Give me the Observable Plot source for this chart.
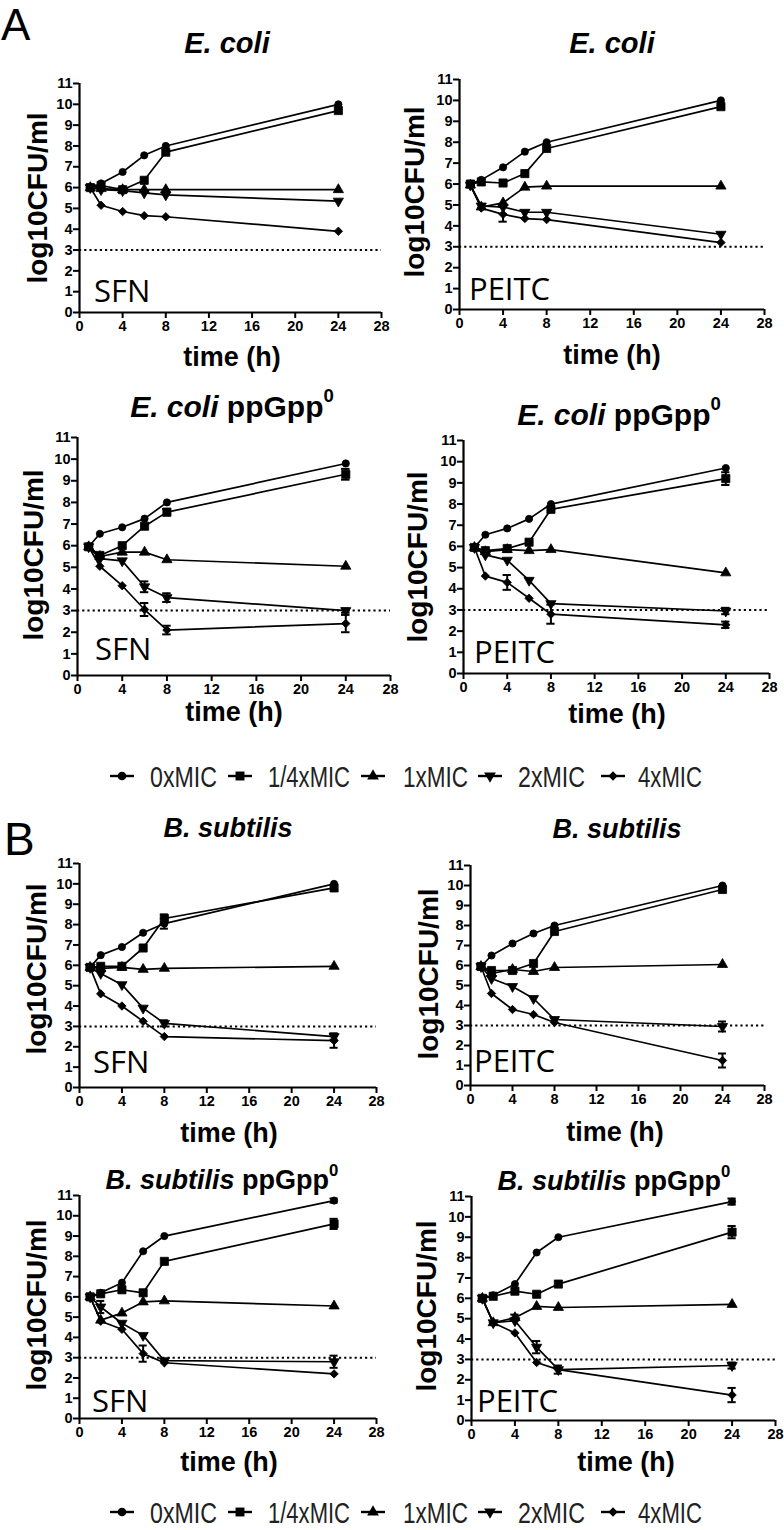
<!DOCTYPE html>
<html><head><meta charset="utf-8">
<script src="https://cdn.jsdelivr.net/npm/d3@7"></script>
<script src="https://cdn.jsdelivr.net/npm/@observablehq/plot@0.6"></script>
<style>
body{margin:0;background:#fff;}
#root{position:relative;width:784px;height:1530px;overflow:hidden;background:#fff;}
#root svg.plot{position:absolute;}
#overlay{position:absolute;left:0;top:0;}
</style></head>
<body><div id="root"></div>
<script>
// ---------- data ----------
const times = [1, 2, 4, 6, 8, 24];
const seriesNames = ["0xMIC", "1/4xMIC", "1xMIC", "2xMIC", "4xMIC"];
const xTicks = [0, 4, 8, 12, 16, 20, 24, 28];
const yTicks = [0, 1, 2, 3, 4, 5, 6, 7, 8, 9, 10, 11];
const detectionLimit = 3;

// each: [0xMIC, 1/4xMIC, 1xMIC, 2xMIC, 4xMIC], values at times
const ecoliSFN = [
  [6.0, 6.2, 6.75, 7.55, 8.0, 10.0],
  [6.0, 6.1, 5.9, 6.35, 7.7, 9.7],
  [6.0, 5.95, 5.9, 5.9, 5.9, 5.9],
  [6.0, 5.9, 5.85, 5.75, 5.65, 5.35],
  [6.0, 5.15, 4.85, 4.65, 4.6, 3.9]
];
const ecoliSFN_err = [];

const ecoliPEITC = [
  [6.0, 6.2, 6.8, 7.55, 8.0, 10.0],
  [6.0, 6.1, 6.05, 6.5, 7.7, 9.7],
  [5.95, 4.9, 5.1, 5.85, 5.9, 5.9],
  [5.95, 4.95, 4.9, 4.65, 4.65, 3.6],
  [5.95, 4.85, 4.55, 4.35, 4.3, 3.2]
];
const ecoliPEITC_err = [[4, 2, 0.35]];

const ecoliPpSFN = [
  [5.95, 6.55, 6.85, 7.25, 8.0, 9.8],
  [5.95, 5.55, 6.0, 6.9, 7.55, 9.3],
  [5.95, 5.5, 5.7, 5.7, 5.35, 5.05],
  [5.95, 5.4, 5.3, 4.1, 3.6, 3.0],
  [5.95, 5.05, 4.15, 3.05, 2.1, 2.4]
];
const ecoliPpSFN_err = [[1, 5, 0.25], [1, 4, 0.15], [3, 3, 0.25], [3, 4, 0.2], [4, 3, 0.3], [4, 4, 0.2], [4, 5, 0.4], [3, 5, 0.1]];

const ecoliPpPEITC = [
  [5.95, 6.55, 6.85, 7.3, 8.0, 9.7],
  [5.95, 5.8, 5.9, 6.2, 7.75, 9.2],
  [5.95, 5.75, 5.85, 5.8, 5.85, 4.75],
  [5.95, 5.6, 5.35, 4.4, 3.3, 2.95],
  [5.95, 4.6, 4.3, 3.55, 2.8, 2.3]
];
const ecoliPpPEITC_err = [[1, 5, 0.3], [4, 2, 0.35], [4, 4, 0.45], [3, 5, 0.15], [4, 5, 0.15]];

const bsubSFN = [
  [5.9, 6.5, 6.9, 7.6, 8.05, 10.0],
  [5.9, 5.95, 5.95, 6.85, 8.3, 9.8],
  [5.9, 5.85, 5.9, 5.8, 5.85, 5.95],
  [5.9, 5.6, 5.05, 3.9, 3.15, 2.5],
  [5.9, 4.6, 4.0, 3.25, 2.5, 2.3]
];
const bsubSFN_err = [[0, 4, 0.25], [1, 4, 0.2], [3, 4, 0.15], [3, 5, 0.15], [4, 5, 0.35]];

const bsubPEITC = [
  [5.95, 6.5, 7.1, 7.6, 8.0, 10.0],
  [5.95, 5.75, 5.75, 6.1, 7.7, 9.8],
  [5.95, 5.6, 5.8, 5.7, 5.9, 6.05],
  [5.95, 5.35, 4.95, 4.35, 3.3, 2.95],
  [5.95, 4.6, 3.8, 3.55, 3.15, 1.25]
];
const bsubPEITC_err = [[3, 5, 0.25], [4, 5, 0.35]];

const bsubPpSFN = [
  [6.0, 6.2, 6.7, 8.25, 9.0, 10.75],
  [6.0, 6.15, 6.35, 6.2, 7.75, 9.6],
  [6.0, 4.85, 5.2, 5.75, 5.8, 5.55],
  [6.0, 5.5, 4.7, 4.1, 2.85, 2.8],
  [6.0, 4.8, 4.4, 3.2, 2.75, 2.2]
];
const bsubPpSFN_err = [[0, 5, 0.1], [1, 5, 0.25], [3, 1, 0.3], [4, 3, 0.4], [3, 5, 0.3]];

const bsubPpPEITC = [
  [6.0, 6.15, 6.7, 8.25, 9.0, 10.75],
  [6.0, 6.1, 6.35, 6.2, 6.7, 9.25],
  [6.0, 4.8, 5.05, 5.6, 5.55, 5.7],
  [6.0, 4.8, 4.9, 3.6, 2.5, 2.7],
  [6.0, 4.8, 4.3, 2.85, 2.5, 1.25]
];
const bsubPpPEITC_err = [[0, 5, 0.15], [1, 5, 0.3], [3, 3, 0.3], [3, 5, 0.15], [4, 4, 0.2], [4, 5, 0.35], [2, 2, 0.15]];

// ---------- layout ----------
const FONT = "'Liberation Sans', Arial, sans-serif";
const symbolSpec = [
  {symbol: "circle", r: 3.6, rotate: 0},
  {symbol: "square", r: 4.6, rotate: 0},
  {symbol: "triangle", r: 3.8, rotate: 0},
  {symbol: "triangle", r: 3.8, rotate: 180},
  {symbol: "diamond2", r: 3.8, rotate: 0}
];

const panels = [
  {vals: ecoliSFN, err: ecoliSFN_err, L: 79, R: 381, T: 83, B: 312, drug: "SFN", dx: 94, dy: 302,
   title: ["E. coli", null], tfs: 29, tx: 227, ty: 53, ylx: 37, yly: 198, xlx: 232, xly: 357},
  {vals: ecoliPEITC, err: ecoliPEITC_err, L: 459, R: 764, T: 79, B: 309, drug: "PEITC", dx: 469, dy: 300,
   title: ["E. coli", null], tfs: 29, tx: 612, ty: 53, ylx: 414, yly: 192, xlx: 612, xly: 355},
  {vals: ecoliPpSFN, err: ecoliPpSFN_err, L: 77, R: 390, T: 437, B: 675, drug: "SFN", dx: 95, dy: 660,
   title: ["E. coli", " ppGpp"], tfs: 30, tx: 232, ty: 417, ylx: 33, yly: 555, xlx: 234, xly: 712},
  {vals: ecoliPpPEITC, err: ecoliPpPEITC_err, L: 463, R: 769, T: 440, B: 673, drug: "PEITC", dx: 474, dy: 663,
   title: ["E. coli", " ppGpp"], tfs: 30, tx: 619, ty: 425, ylx: 417, yly: 557, xlx: 617, xly: 714},
  {vals: bsubSFN, err: bsubSFN_err, L: 79, R: 376, T: 863, B: 1087, drug: "SFN", dx: 93, dy: 1073,
   title: ["B. subtilis", null], tfs: 27, tx: 228, ty: 837, ylx: 36, yly: 969, xlx: 229, xly: 1133},
  {vals: bsubPEITC, err: bsubPEITC_err, L: 470, R: 764, T: 865, B: 1085, drug: "PEITC", dx: 474, dy: 1072,
   title: ["B. subtilis", null], tfs: 27, tx: 617, ty: 838, ylx: 428, yly: 974, xlx: 615, xly: 1132},
  {vals: bsubPpSFN, err: bsubPpSFN_err, L: 79, R: 376, T: 1195, B: 1418, drug: "SFN", dx: 92, dy: 1412,
   title: ["B. subtilis", " ppGpp"], tfs: 27, tx: 222, ty: 1189, ylx: 36, yly: 1305, xlx: 229, xly: 1462},
  {vals: bsubPpPEITC, err: bsubPpPEITC_err, L: 471, R: 775, T: 1196, B: 1420, drug: "PEITC", dx: 477, dy: 1412,
   title: ["B. subtilis", " ppGpp"], tfs: 27, tx: 614, ty: 1190, ylx: 426, yly: 1306, xlx: 626, xly: 1462}
];

const root = document.getElementById("root");

function drawPanel(p) {
  const ml = 46, mr = 22, mt = 10, mb = 34;
  const rows = [];
  p.vals.forEach((arr, si) => arr.forEach((v, ti) => rows.push({s: si, t: times[ti], v})));
  const errs = p.err.map(([si, ti, e]) => ({s: si, t: times[ti], v: p.vals[si][ti], e}));
  const marks = [
    Plot.ruleY([detectionLimit], {stroke: "#000", strokeWidth: 2, strokeDasharray: "2.2,3"}),
    ...seriesNames.map((_, si) => Plot.line(rows.filter(d => d.s === si), {x: "t", y: "v", stroke: "#000", strokeWidth: 1.7})),
    Plot.ruleX(errs, {x: "t", y1: d => d.v - d.e, y2: d => d.v + d.e, stroke: "#000", strokeWidth: 2}),
    Plot.ruleY(errs, {y: d => d.v - d.e, x1: d => d.t - 0.38, x2: d => d.t + 0.38, stroke: "#000", strokeWidth: 2}),
    Plot.ruleY(errs, {y: d => d.v + d.e, x1: d => d.t - 0.38, x2: d => d.t + 0.38, stroke: "#000", strokeWidth: 2}),
    ...symbolSpec.map((sp, si) => Plot.dot(rows.filter(d => d.s === si), {
      x: "t", y: "v", symbol: sp.symbol, r: sp.r, rotate: sp.rotate, fill: "#000", stroke: "#000", strokeWidth: 0.8
    })),
    Plot.ruleX([0], {stroke: "#000", strokeWidth: 2.2}),
    Plot.ruleY([0], {stroke: "#000", strokeWidth: 2.2}),
    Plot.axisX({ticks: xTicks, tickSize: 6, tickPadding: 2, strokeWidth: 2, label: null, fontSize: 14.5, fontWeight: "bold"}),
    Plot.axisY({ticks: yTicks, tickSize: 6, tickPadding: 1, strokeWidth: 2, label: null, fontSize: 14.5, fontWeight: "bold"})
  ];
  const svg = Plot.plot({
    width: p.R - p.L + ml + mr,
    height: p.B - p.T + mt + mb,
    marginLeft: ml, marginRight: mr, marginTop: mt, marginBottom: mb,
    x: {domain: [0, 28]},
    y: {domain: [0, 11]},
    style: {fontFamily: FONT, fontWeight: "bold", fontSize: "14.5px", color: "#000", background: "transparent", overflow: "visible"},
    marks
  });
  svg.classList.add("plot");
  svg.style.left = (p.L - ml) + "px";
  svg.style.top = (p.T - mt) + "px";
  root.appendChild(svg);
}
panels.forEach(drawPanel);

// ---------- text overlay ----------
const ov = d3.select(root).append("svg").attr("id", "overlay").attr("width", 784).attr("height", 1530);

ov.append("text").attr("x", 1).attr("y", 40).attr("font-family", FONT).attr("font-size", 44).text("A");
ov.append("text").attr("x", 4).attr("y", 855).attr("font-family", FONT).attr("font-size", 46).text("B");

panels.forEach(p => {
  const t = ov.append("text").attr("x", p.tx).attr("y", p.ty).attr("text-anchor", "middle")
    .attr("font-family", FONT).attr("font-weight", "bold").attr("font-size", p.tfs);
  t.append("tspan").attr("font-style", "italic").text(p.title[0]);
  if (p.title[1]) {
    t.append("tspan").text(p.title[1]);
    t.append("tspan").attr("font-size", p.tfs * 0.62).attr("dy", -p.tfs * 0.5).text("0");
  }
  ov.append("text").attr("transform", `translate(${p.ylx},${p.yly}) rotate(-90)`)
    .attr("text-anchor", "middle").attr("dy", "0.35em")
    .attr("font-family", FONT).attr("font-weight", "bold").attr("font-size", 28).text("log10CFU/ml");
  ov.append("text").attr("x", p.xlx).attr("y", p.xly).attr("text-anchor", "middle").attr("dy", "0.35em")
    .attr("font-family", FONT).attr("font-weight", "bold").attr("font-size", 27).text("time (h)");
  ov.append("text").attr("x", p.dx).attr("y", p.dy)
    .attr("font-family", "'Open Sans', sans-serif").attr("font-size", 31).text(p.drug);
});

// ---------- legends ----------
const legendMarkX = [122, 240, 373, 490, 613];
const legendTextX = [[150, 67], [268, 82], [403, 65], [518, 67], [638, 64]];
const d3Sym = [d3.symbolCircle, d3.symbolSquare, d3.symbolTriangle, d3.symbolTriangle, d3.symbolDiamond2];
const d3Size = [60, 80, 60, 60, 55];
[776, 1512].forEach(cy => {
  seriesNames.forEach((name, i) => {
    const cx = legendMarkX[i];
    ov.append("line").attr("x1", cx - 12).attr("x2", cx + 12).attr("y1", cy).attr("y2", cy)
      .attr("stroke", "#000").attr("stroke-width", 2.4);
    ov.append("path").attr("d", d3.symbol(d3Sym[i], d3Size[i])())
      .attr("transform", `translate(${cx},${cy}) rotate(${i === 3 ? 180 : 0})`).attr("fill", "#000");
    ov.append("text").attr("x", legendTextX[i][0]).attr("y", cy + 11)
      .attr("textLength", legendTextX[i][1]).attr("lengthAdjust", "spacingAndGlyphs")
      .attr("font-family", FONT).attr("font-size", 30).attr("fill", "#222").text(name);
  });
});
</script>
</body></html>
